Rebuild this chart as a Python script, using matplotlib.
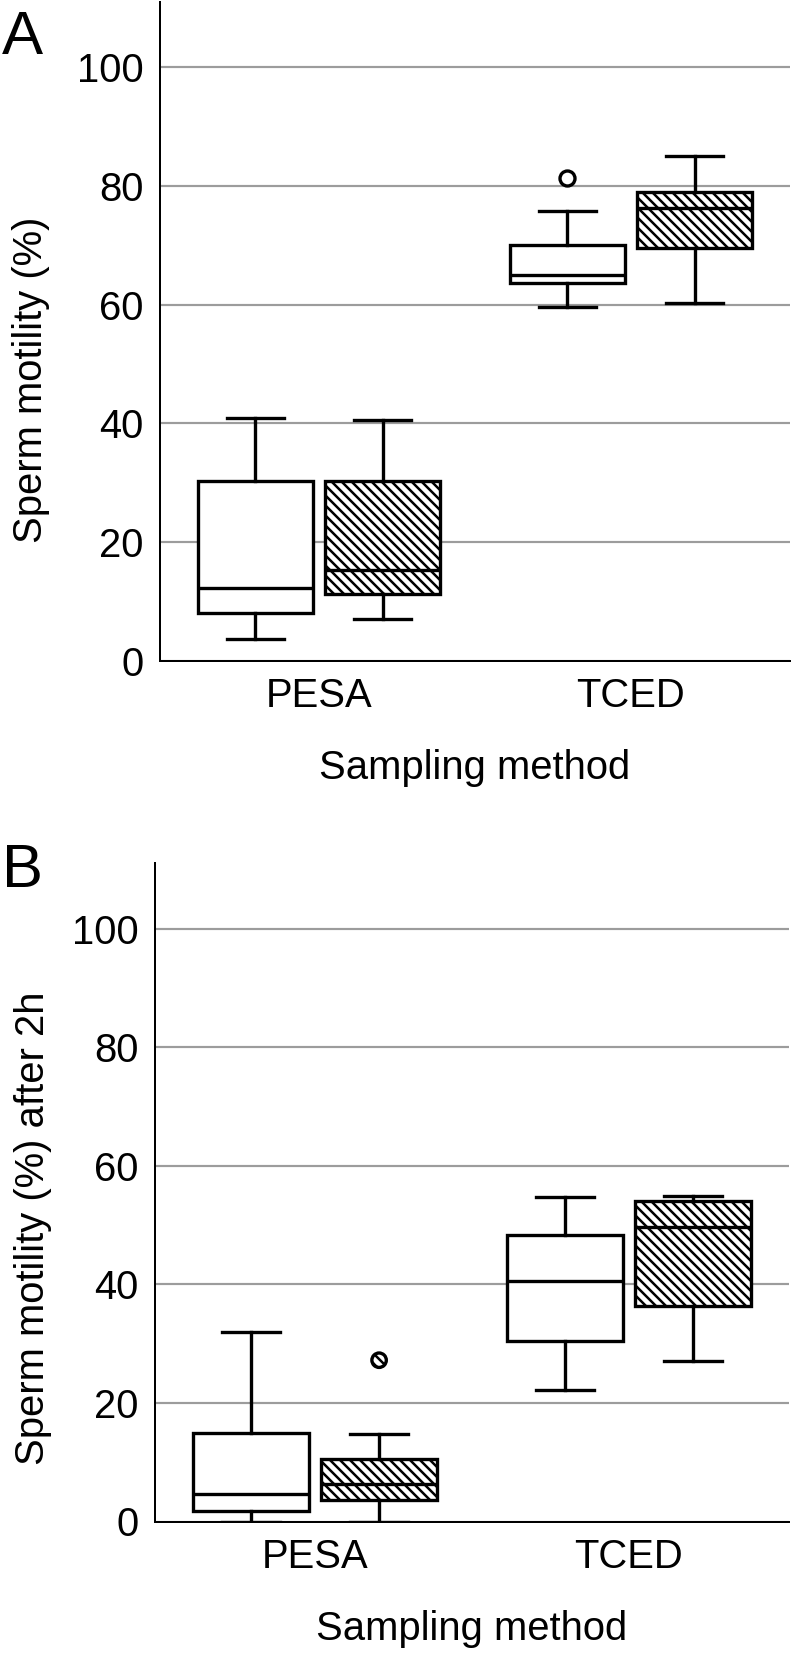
import matplotlib
matplotlib.use('Agg')
import matplotlib.pyplot as plt

plt.rcParams['font.family'] = ['Liberation Sans', 'DejaVu Sans']
plt.rcParams['hatch.linewidth'] = 1.5
plt.rcParams['hatch.color'] = 'black'

# ---------------- data ----------------
methods = ['PESA', 'TCED']

# Panel A: sperm motility (%)
a_plain_low = [3.6, 59.6]
a_plain_q1 = [8.1, 63.7]
a_plain_med = [12.2, 65.0]
a_plain_q3 = [30.2, 70.0]
a_plain_high = [40.9, 75.7]
a_plain_out = [[], [81.3]]

a_hatch_low = [7.0, 60.2]
a_hatch_q1 = [11.2, 69.6]
a_hatch_med = [15.2, 76.3]
a_hatch_q3 = [30.2, 78.9]
a_hatch_high = [40.5, 85.1]
a_hatch_out = [[], []]

# Panel B: sperm motility (%) after 2h
b_plain_low = [0.0, 22.2]
b_plain_q1 = [1.8, 30.4]
b_plain_med = [4.7, 40.6]
b_plain_q3 = [15.0, 48.3]
b_plain_high = [32.0, 54.8]
b_plain_out = [[], []]

b_hatch_low = [0.0, 27.0]
b_hatch_q1 = [3.6, 36.4]
b_hatch_med = [6.3, 49.6]
b_hatch_q3 = [10.5, 54.0]
b_hatch_high = [14.8, 54.9]
b_hatch_out = [[27.2], []]

y_ticks = [0, 20, 40, 60, 80, 100]
panel_letters = ['A', 'B']
y_labels = ['Sperm motility (%)', 'Sperm motility (%) after 2h']
x_label = 'Sampling method'

# ---------------- figure ----------------
W, H, DPI = 793, 1665, 120
fig = plt.figure(figsize=(W / DPI, H / DPI), dpi=DPI)

FS = 24
OFF = 0.204
BW = 0.369
CW = 0.183


def stats(low, q1, med, q3, high, out):
    return [dict(whislo=low[i], q1=q1[i], med=med[i], q3=q3[i], whishi=high[i],
                 fliers=out[i], label=methods[i]) for i in range(len(methods))]


def draw(ax, plain, hatch, ylabel, ylab_xy):
    lw = 2.0
    common = dict(widths=BW, capwidths=CW, patch_artist=True, manage_ticks=False,
                  whiskerprops=dict(color='black', linewidth=lw),
                  capprops=dict(color='black', linewidth=lw),
                  medianprops=dict(color='black', linewidth=lw))
    ax.bxp(plain, positions=[i - OFF for i in range(len(methods))],
           boxprops=dict(facecolor='white', edgecolor='black', linewidth=lw),
           flierprops=dict(marker='o', markersize=9, markerfacecolor='white',
                           markeredgecolor='black', markeredgewidth=2.0),
           **common)
    ax.bxp(hatch, positions=[i + OFF for i in range(len(methods))],
           boxprops=dict(facecolor='white', edgecolor='black', linewidth=lw, hatch='\\\\\\\\'),
           showfliers=False, **common)
    for i, s in enumerate(hatch):
        if len(s['fliers']):
            ax.scatter([i + OFF] * len(s['fliers']), s['fliers'], s=75, facecolors='white',
                       edgecolors='black', linewidths=2.0, hatch='\\\\\\\\', zorder=3)

    ax.set_xlim(-0.51, 1.51)
    ax.set_ylim(0, 111)
    ax.set_yticks(y_ticks)
    ax.set_xticks(range(len(methods)))
    ax.set_xticklabels(methods)
    ax.tick_params(axis='both', length=0, labelsize=FS, colors='black')
    ax.tick_params(axis='y', pad=10)
    ax.tick_params(axis='x', pad=10)
    ax.set_axisbelow(True)
    ax.yaxis.grid(True, color='#9c9c9c', linewidth=1.3)
    for s in ['top', 'right']:
        ax.spines[s].set_visible(False)
    for s in ['left', 'bottom']:
        ax.spines[s].set_linewidth(1.2)
        ax.spines[s].set_color('black')
    ax.set_xlabel(x_label, fontsize=FS, labelpad=20)
    ax.set_ylabel(ylabel, fontsize=FS)
    ax.yaxis.set_label_coords(*ylab_xy)


axA = fig.add_axes([160 / W, 1 - 660.7 / H, 630 / W, 658.7 / H])
draw(axA,
     stats(a_plain_low, a_plain_q1, a_plain_med, a_plain_q3, a_plain_high, a_plain_out),
     stats(a_hatch_low, a_hatch_q1, a_hatch_med, a_hatch_q3, a_hatch_high, a_hatch_out),
     y_labels[0], (-(160 - 50) / 630, 0.426))

axB = fig.add_axes([155 / W, 1 - 1521.5 / H, 634 / W, 658.2 / H])
draw(axB,
     stats(b_plain_low, b_plain_q1, b_plain_med, b_plain_q3, b_plain_high, b_plain_out),
     stats(b_hatch_low, b_hatch_q1, b_hatch_med, b_hatch_q3, b_hatch_high, b_hatch_out),
     y_labels[1], (-(155 - 52) / 634, 0.445))

fig.text(2 / W, 1 - 54 / H, panel_letters[0], fontsize=37, ha='left', va='baseline')
fig.text(2 / W, 1 - 887 / H, panel_letters[1], fontsize=37, ha='left', va='baseline')

fig.savefig('out.png', dpi=DPI)
